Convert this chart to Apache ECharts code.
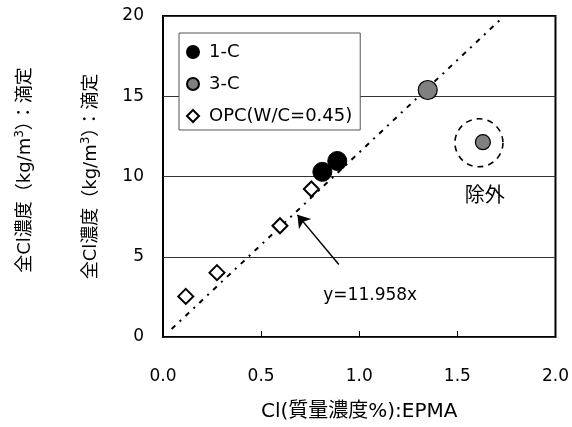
<!DOCTYPE html>
<html><head><meta charset="utf-8">
<script src="https://cdn.jsdelivr.net/npm/echarts@6/dist/echarts.min.js"></script>
<style>html,body{margin:0;padding:0;background:#fff}#c{width:572px;height:427px}</style>
</head><body><div id="c"></div>
<script>
var seriesNames = ['1-C', '3-C', 'OPC(W/C=0.45)'];
var data1C = [[0.812, 10.29], [0.888, 10.97]];
var data3C = [[1.349, 15.39]];
var data3CExcluded = [[1.630, 12.14]];
var dataOPC = [[0.116, 2.53], [0.275, 4.01], [0.596, 6.93], [0.756, 9.22]];
var trendLine = [[0.044, 0.5], [1.73, 19.9]];
var excludedRing = [[1.61, 12.1]];
var arrowFrom = [0.896, 4.52];
var arrowTo = [0.685, 7.61];
var eqLabel = {pos: [1.056, 2.57], text: 'y=11.958x'};
var exLabel = {pos: [1.639, 8.75], text: '除外'};
var xTicks = [0, 0.5, 1.0, 1.5, 2.0];
var yTicks = [0, 5, 10, 15, 20];

var FONT = '"DejaVu Sans", "Noto Sans CJK JP", sans-serif';
var chart = echarts.init(document.getElementById('c'));
var yName = '{a|全Cl濃度（kg/m}{s|3}{a|）：滴定}';
var richY = {a: {fontSize: 18, fontFamily: FONT, color: '#000'}, s: {fontSize: 12, fontFamily: FONT, color: '#000', verticalAlign: 'top', padding: [0, 0, 10, 0]}};
chart.setOption({
  animation: false,
  textStyle: {fontFamily: FONT},
  grid: {left: 163, right: 14, top: 16, bottom: 87, show: true, borderColor: '#000', borderWidth: 2, containLabel: false},
  legend: {
    data: seriesNames, orient: 'vertical', left: 179, top: 33,
    itemWidth: 12, itemHeight: 12, itemGap: 14,
    padding: [10, 8, 5, 7],
    borderColor: '#555', borderWidth: 1, backgroundColor: '#fff',
    textStyle: {fontSize: 18, color: '#000', fontFamily: FONT, padding: [0, 0, 0, 5]}
  },
  xAxis: {
    type: 'value', min: xTicks[0], max: xTicks[xTicks.length - 1], interval: 0.5,
    axisLine: {show: false},
    axisTick: {show: true, inside: true, length: 6, lineStyle: {color: '#000'}},
    splitLine: {show: false},
    axisLabel: {fontSize: 17, color: '#000', margin: 31, formatter: function (v) { return v.toFixed(1); }},
    name: 'Cl(質量濃度%):EPMA', nameLocation: 'middle', nameGap: 65,
    nameTextStyle: {fontSize: 20, color: '#000'}
  },
  yAxis: {
    type: 'value', min: yTicks[0], max: yTicks[yTicks.length - 1], interval: 5,
    axisLine: {show: false}, axisTick: {show: false},
    splitLine: {show: true, lineStyle: {color: '#333', width: 1}},
    axisLabel: {fontSize: 17, color: '#000', margin: 19},
    name: yName, nameLocation: 'middle', nameGap: 61, nameRotate: 90,
    nameTextStyle: {fontSize: 18, color: '#000', rich: richY}
  },
  graphic: [{
    type: 'text', x: 25, y: 170, rotation: Math.PI / 2,
    style: {text: yName, fontSize: 18, fill: '#000', rich: richY, align: 'center', verticalAlign: 'middle'}
  }],
  series: [
    {
      name: 'trend', type: 'line', data: trendLine, symbol: 'none', silent: true,
      lineStyle: {color: '#000', width: 2, type: [5, 6, 2, 6]}, z: 1,
      markLine: {
        silent: true, symbol: ['none', 'arrow'], symbolSize: 12,
        lineStyle: {color: '#000', width: 1.5, type: 'solid'}, label: {show: false},
        data: [[{coord: arrowFrom}, {coord: arrowTo}]]
      }
    },
    {
      name: 'ring', type: 'scatter', data: excludedRing, symbol: 'circle', symbolSize: 48, silent: true,
      itemStyle: {color: 'rgba(0,0,0,0)', borderColor: '#000', borderWidth: 1.6, borderType: [6, 5], opacity: 1}
    },
    {
      name: seriesNames[0], type: 'scatter', data: data1C, symbol: 'circle', symbolSize: 19, z: 3,
      itemStyle: {color: '#000', borderColor: '#000', borderWidth: 1, opacity: 1}
    },
    {
      name: seriesNames[1], type: 'scatter', symbol: 'circle', z: 3,
      data: data3C.map(function (d) { return {value: d, symbolSize: 19}; })
        .concat(data3CExcluded.map(function (d) { return {value: d, symbolSize: 15}; })),
      symbolSize: 19,
      itemStyle: {color: '#808080', borderColor: '#000', borderWidth: 1.2, opacity: 1}
    },
    {
      name: seriesNames[2], type: 'scatter', data: dataOPC, symbol: 'diamond', symbolSize: 15, z: 3,
      itemStyle: {color: '#fff', borderColor: '#000', borderWidth: 2, opacity: 1}
    },
    {
      name: 'labels', type: 'scatter', symbolSize: 0, silent: true,
      itemStyle: {opacity: 1},
      data: [
        {value: eqLabel.pos, name: eqLabel.text, label: {fontSize: 17}},
        {value: exLabel.pos, name: exLabel.text, label: {fontSize: 20}}
      ],
      label: {show: true, position: 'inside', formatter: '{b}', color: '#000', fontFamily: FONT}
    }
  ]
});
</script></body></html>
